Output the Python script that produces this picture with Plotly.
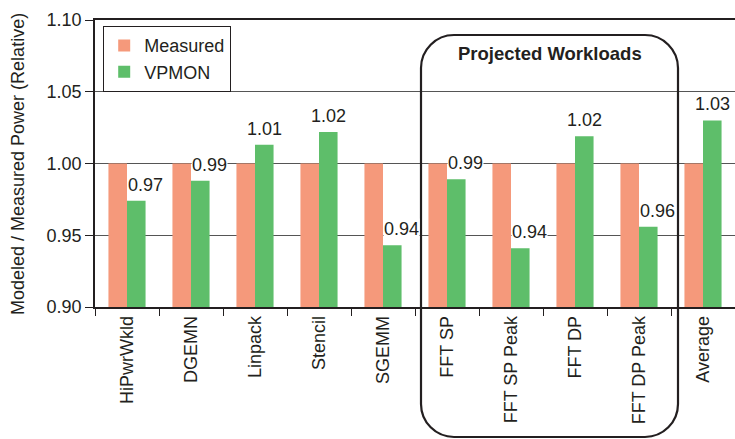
import plotly.graph_objects as go

# Benchmarks and modeled/measured power ratios
workloads = ["HiPwrWkld", "DGEMN", "Linpack", "Stencil", "SGEMM",
             "FFT SP", "FFT SP Peak", "FFT DP", "FFT DP Peak", "Average"]
measured = [1.00, 1.00, 1.00, 1.00, 1.00, 1.00, 1.00, 1.00, 1.00, 1.00]
vpmon = [0.974, 0.988, 1.013, 1.022, 0.943, 0.989, 0.941, 1.019, 0.956, 1.030]
y_ticks = [0.90, 0.95, 1.00, 1.05, 1.10]
projected = ["FFT SP", "FFT SP Peak", "FFT DP", "FFT DP Peak"]

W, H = 735, 439
M_L, M_R, M_T, M_B = 95, 0, 20, 132
PW, PH = W - M_L - M_R, H - M_T - M_B
FONT = "Liberation Sans, Arial, Helvetica, sans-serif"
TXT = "#231f20"
SALMON = "#f5997b"
GREEN = "#5ebe6a"
BARGAP = 0.42

fig = go.Figure()
fig.add_trace(go.Bar(name="Measured", x=workloads, y=measured,
                     marker=dict(color=SALMON, line=dict(width=0))))
fig.add_trace(go.Bar(name="VPMON", x=workloads, y=vpmon,
                     marker=dict(color=GREEN, line=dict(width=0))))

# Value labels above the VPMON bars
cat_w = PW / len(workloads)
bar_w = cat_w * (1 - BARGAP) / 2
for name, v in zip(workloads, vpmon):
    shift = bar_w / 2 + (9 if v < 1 else 0)
    fig.add_annotation(x=name, y=v, xref="x", yref="y", text=f"{v:.2f}",
                       showarrow=False, xanchor="center", yanchor="bottom",
                       xshift=shift, yshift=5, bgcolor="white", borderpad=0,
                       font=dict(family=FONT, size=18, color=TXT))


# Pixel -> paper conversions for the decorations
def px(xp):
    return (xp - M_L) / PW


def py(yp):
    return (H - M_B - yp) / PH


# Rounded frame around the projected workloads
i0 = workloads.index(projected[0])
i1 = workloads.index(projected[-1])
L = M_L + i0 * cat_w + 6
R = M_L + (i1 + 1) * cat_w + 7
T, B, r = 35, 437, 33
k = 1 - 0.5523


def P(xp, yp):
    return f"{px(xp):.5f},{py(yp):.5f}"


path = (f"M {P(L, T + r)} C {P(L, T + r * k)} {P(L + r * k, T)} {P(L + r, T)} "
        f"L {P(R - r, T)} C {P(R - r * k, T)} {P(R, T + r * k)} {P(R, T + r)} "
        f"L {P(R, B - r)} C {P(R, B - r * k)} {P(R - r * k, B)} {P(R - r, B)} "
        f"L {P(L + r, B)} C {P(L + r * k, B)} {P(L, B - r * k)} {P(L, B - r)} Z")
fig.add_shape(type="path", path=path, xref="paper", yref="paper",
              line=dict(color="#231f20", width=2.2), layer="above")
fig.add_annotation(x=px((L + R) / 2), y=py(53), xref="paper", yref="paper",
                   text="<b>Projected Workloads</b>", showarrow=False,
                   xanchor="center", yanchor="middle",
                   font=dict(family=FONT, size=18.5, color=TXT))

# Y axis title
fig.add_annotation(x=px(18), y=py(164), xref="paper", yref="paper",
                   text="Modeled / Measured Power (Relative)", showarrow=False,
                   textangle=-90, xanchor="center", yanchor="middle",
                   font=dict(family=FONT, size=18, color=TXT))

fig.update_layout(
    width=W, height=H,
    margin=dict(l=M_L, r=M_R, t=M_T, b=M_B, pad=0),
    paper_bgcolor="white", plot_bgcolor="white",
    barmode="group", bargap=BARGAP, bargroupgap=0,
    font=dict(family=FONT, size=18, color=TXT),
    showlegend=True,
    legend=dict(x=px(103), y=py(26), xanchor="left", yanchor="top",
                bgcolor="white", bordercolor="#231f20", borderwidth=1.2,
                font=dict(family=FONT, size=18, color=TXT),
                itemwidth=30, tracegroupgap=0),
    xaxis=dict(type="category", categoryorder="array", categoryarray=workloads,
               tickangle=-90, tickson="boundaries", ticks="outside", ticklen=7,
               tickcolor="#231f20", showline=True, linecolor="#231f20",
               linewidth=1.5, mirror=True, showgrid=False,
               tickfont=dict(family=FONT, size=18, color=TXT)),
    yaxis=dict(range=[y_ticks[0], y_ticks[-1]], tickvals=y_ticks,
               ticktext=[f"{t:.2f}" for t in y_ticks],
               ticks="outside", ticklen=8, tickcolor="#231f20",
               showline=True, linecolor="#231f20", linewidth=1.5,
               showgrid=True, gridcolor="#555555", gridwidth=1.2,
               zeroline=False,
               tickfont=dict(family=FONT, size=18, color=TXT)),
)

fig.write_html("out.html")
